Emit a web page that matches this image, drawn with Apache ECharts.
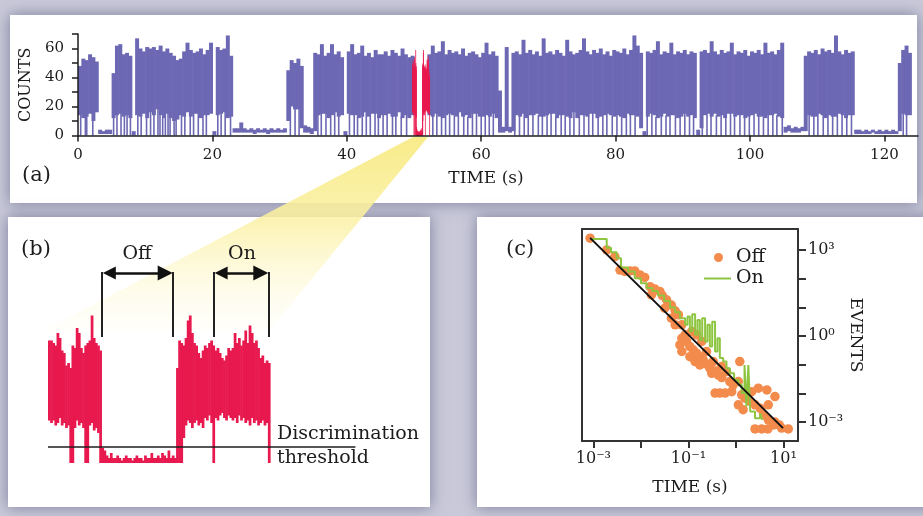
<!DOCTYPE html>
<html><head><meta charset="utf-8">
<script src="https://cdn.jsdelivr.net/npm/echarts@6/dist/echarts.min.js"></script>
<style>html,body{margin:0;padding:0;background:#c9c9d9}#c{width:923px;height:516px}</style>
</head><body><div id="c"></div>
<script>
// ---------- (a) full trace: counts per 0.5 s bin (upper / lower edge of the noise band) ----------
const traceStart = 0;
const traceBin = 0.5;
const traceHigh = [48,53,52,56,54,51,4,3,4,4,
 43,62,63,56,57,55,3,67,60,58,
 61,60,61,59,62,58,60,57,55,52,
 53,58,64,59,57,58,60,56,59,64,
 3,61,59,60,69,55,5,5,9,5,
 4,5,4,5,4,5,4,5,4,5,
 4,5,45,52,50,53,48,7,6,5,
 57,56,63,55,57,63,56,58,54,3,
 58,63,56,57,62,55,57,54,59,56,
 56,58,55,59,57,55,60,56,54,55,
 null,null,null,null,56,62,57,58,65,56,
 59,57,58,56,60,55,57,58,56,54,
 57,64,56,58,55,31,6,61,6,57,
 58,56,66,57,59,56,58,55,67,57,
 58,56,59,57,55,66,58,56,57,59,
 67,58,56,59,57,60,56,58,55,59,
 58,57,60,56,59,69,62,57,3,58,
 57,59,65,56,58,57,64,56,58,57,
 59,56,58,57,4,58,59,57,65,58,
 56,59,57,58,64,56,58,57,59,55,
 58,57,59,56,64,57,58,56,59,64,
 6,7,5,6,5,6,55,58,57,59,
 56,60,58,59,57,69,58,56,59,57,
 58,4,4,3,4,3,4,3,4,3,
 4,3,4,3,50,59,62,57];
const traceLow = [14,12,13,15,10,16,1,1,1,1,
 12,14,15,13,14,12,0,14,13,15,
 12,16,14,18,14,12,15,12,10,11,
 14,13,16,13,15,15,12,14,14,15,
 0,14,15,16,12,13,2,2,2,2,
 2,2,1,2,2,2,1,2,2,2,
 2,2,10,20,18,18,5,2,2,1,
 3,14,15,15,12,14,16,13,14,0,
 15,14,14,12,13,16,13,15,15,12,
 14,14,15,13,13,16,12,14,12,14,
 null,null,null,null,14,13,15,13,12,14,
 15,14,13,16,13,14,12,15,15,13,
 13,14,13,15,12,2,2,3,2,3,
 14,13,15,12,14,14,15,13,13,14,
 15,15,12,14,14,13,12,16,12,14,
 14,13,15,15,12,13,14,15,14,13,
 14,13,12,15,14,14,13,5,0,13,
 15,14,12,13,15,13,14,14,12,13,
 15,13,14,12,0,5,14,15,13,15,
 13,14,12,15,15,13,14,14,12,13,
 14,15,13,13,12,14,14,15,13,12,
 2,3,2,2,2,3,3,14,13,13,
 15,14,12,14,13,13,15,14,12,14,
 14,1,1,1,1,1,2,1,1,1,
 1,1,1,1,3,15,14,14];
// times (s) where the signal drops briefly to ~0 counts during "on" periods
const traceDips = [0.4,1.1,1.3,2.2,
 5.3,5.8,6.4,6.9,7.3,7.8,
 8.9,9.4,10.2,10.8,11.3,11.9,12.2,12.6,13.0,13.4,13.7,14.3,14.6,15.4,15.9,16.7,17.2,17.9,18.6,19.1,
 20.8,21.3,21.9,22.7,
 31.6,32.3,32.9,
 35.7,36.2,36.9,37.6,38.2,38.8,
 40.4,41.1,41.6,42.3,42.9,43.5,44.2,44.7,45.4,46.0,46.8,47.3,48.1,48.9,
 52.8,53.4,54.1,54.7,55.3,56.0,56.6,57.4,58.0,58.7,59.3,60.0,60.6,61.2,61.8,
 65.0,65.7,66.4,67.0,67.7,68.5,69.1,69.8,70.4,71.1,71.9,72.5,73.2,73.8,74.6,75.3,76.0,76.6,77.4,78.1,78.7,79.5,80.2,80.9,81.6,82.2,82.9,
 84.7,85.4,86.0,86.8,87.5,88.1,88.9,89.6,90.3,91.0,91.6,
 92.9,93.6,94.2,95.0,95.7,96.4,97.1,97.7,98.5,99.2,99.9,100.6,101.3,102.0,102.7,103.4,104.0,104.8,
 108.8,109.5,110.1,110.9,111.6,112.3,113.0,113.7,114.4,115.1,
 122.8,123.3];

// ---------- highlighted excerpt (red), counts per 0.025 s bin ----------
const zoomStart = 49.7;
const zoomBin = 0.025;
const zoomHigh = [49,49,48,47,52,50,45,44,39,40,
 38,47,46,54,52,46,44,47,48,49,
 59,50,48,47,45,6,5,3,2,4,
 2,2,3,2,1,2,3,2,2,1,
 2,3,2,2,1,3,2,2,4,2,
 2,3,2,4,3,2,5,2,3,2,
 38,49,48,47,50,57,59,52,48,47,
 44,42,45,47,46,48,49,47,45,46,
 44,42,41,43,46,45,46,52,48,50,
 47,49,53,48,55,52,48,49,46,42,
 43,40,41,40];
const zoomLow = [17,16,17,15,16,18,15,16,14,15,
 0,0,14,17,15,16,14,0,0,15,
 16,13,14,12,0,0,0,0,0,0,
 0,0,0,0,0,0,0,0,0,0,
 0,0,0,0,0,0,0,0,0,0,
 0,0,0,0,0,0,0,0,0,0,
 0,0,0,10,15,17,16,14,16,17,
 15,16,14,18,17,19,16,0,18,17,
 19,20,18,17,19,18,17,18,16,19,
 17,18,16,17,15,18,16,17,15,16,
 17,15,16,0];
const zoomEnd = 53.3;
const thresholdCounts = 6.4;
const offSpan = [50.33, 51.16];
const onSpan = [51.64, 52.28];
const bracketLevels = [50.4, 76.4];
const arrowLevel = 76;

// ---------- (a) axis ticks ----------
const countLabelValues = [0, 20, 40, 60];

// ---------- (c) dwell-time histogram, log10 values ----------
const offLogTime = [-3.07,-2.72,-2.55,-2.44,-2.34,-2.23,-2.13,-2.02,-1.92,-1.81,-1.71,-1.60,-1.55,-1.46,-1.36,-1.28,-1.21,-1.14,-1.07,-1.18,-1.14,-1.04,-0.97,-0.90,-0.83,-0.76,-0.69,-0.62,-0.55,-0.51,-0.44,-0.37,-0.30,-0.93,-0.83,-0.72,-0.62,-0.48,-0.30,-0.20,-0.13,-0.06,0.05,0.08,-0.44,-0.34,-0.23,-0.09,0.12,0.19,0.30,0.40,0.33,0.47,0.65,0.82,0.68,0.51,0.58,0.68,0.82,0.96,1.10,0.40,0.54,0.67,0.79,0.91,-1.36,-1.28,-1.50,-1.78,-0.97,-0.86,-0.76,-1.14,0.05,0.15];
const offLogEvents = [3.41,3.00,2.77,2.30,2.25,2.27,2.27,2.13,2.04,1.72,1.64,1.55,1.41,1.26,1.08,0.88,0.74,0.39,0.04,-0.31,-0.54,-0.19,-0.37,-0.48,-0.60,-0.72,-0.83,-0.98,-1.12,-1.30,-1.22,-1.36,-1.45,0.16,0.04,-0.19,-0.54,-0.89,-1.06,-1.24,-1.59,-1.70,-1.59,-0.89,-1.99,-1.99,-1.99,-1.94,-2.05,-2.17,-2.28,-2.40,-1.94,-1.82,-1.88,-2.11,-2.40,-2.52,-2.75,-2.92,-3.00,-3.21,-3.24,-3.24,-3.24,-3.24,-3.10,-3.10,0.62,0.39,0.97,1.43,-0.72,-0.89,-1.01,-0.08,-2.40,-2.57];
const onLogTime = [-3.05,-2.72,-2.63,-2.51,-2.42,-2.27,-2.13,-2.00,-1.88,-1.76,-1.64,-1.51,-1.39,-1.28,-1.18,-1.07,-1.02,-0.97,-0.92,-0.86,-0.81,-0.76,-0.71,-0.65,-0.60,-0.55,-0.50,-0.44,-0.39,-0.34,-0.27,-0.20,-0.13,-0.04,0.05,0.12,0.18,0.22,0.26,0.30,0.40,0.51,0.55];
const onLogEvents = [3.38,3.08,2.92,2.71,2.39,2.25,2.01,1.84,1.67,1.57,1.41,1.22,0.99,0.83,0.62,0.39,0.68,0.16,0.76,0.04,0.56,-0.14,0.62,-0.19,0.39,-0.37,0.50,-0.54,-0.08,-0.77,-0.89,-1.12,-1.30,-1.53,-1.70,-1.99,-1.01,-2.46,-1.01,-2.63,-2.87,-2.69,-2.92];
const fitLogTime = [-3.07, 0.99];
const fitLogEvents = [3.42, -3.21];
const logTicks = [-3,-2,-1,0,1];
const logTimeLabels = [-3,-1,1];
const logEventTicks = [-3,-2,-1,0,1,2,3];
const logEventLabels = [-3,0,3];

// ---------- build ----------
const zip = (a, b) => a.map((v, i) => [v, b[i]]);
const SUP = {'-':'\u207B','0':'\u2070','1':'\u00B9','2':'\u00B2','3':'\u00B3'};
const pow10 = v => '10' + String(Math.round(v)).split('').map(c => SUP[c]).join('');

const F = 'DejaVu Serif';
const INK = '#1c1c1c';
const PURPLE = '#6c68b3';
const RED = '#e8194e';
const ORANGE = '#f38b4c';
const GREEN = '#8dc540';

// one rectangle per time bin, from the low edge to the high edge (through the axes' scales)
function band(start, bw, hi, lo, xi, yi, color, z) {
  const data = [];
  hi.forEach((h, i) => { if (h != null) data.push([+(start + i * bw).toFixed(4), lo[i], h]); });
  return {type: 'custom', xAxisIndex: xi, yAxisIndex: yi, silent: true, z, data,
    encode: {x: 0, y: [1, 2]},
    renderItem: (params, api) => {
      const a = api.coord([api.value(0), api.value(2)]);
      const b = api.coord([api.value(0) + bw, api.value(1)]);
      return {type: 'rect', shape: {x: a[0], y: a[1], width: (b[0] - a[0]) + 0.6, height: b[1] - a[1]},
        style: {fill: color}};
    }};
}
const dipData = traceDips.map(t => [t, traceLow[Math.floor(t / traceBin)] + 1]);

const pxPerSecB = 307.4 / (zoomEnd - zoomStart);
const inset = 7.5 / pxPerSecB;

const chart = echarts.init(document.getElementById('c'), null, {renderer: 'canvas'});
const panelStyle = {fill: '#ffffff', shadowBlur: 14, shadowColor: 'rgba(60,60,105,0.55)'};
const txt = (text, x, y, size, align) => ({type: 'text', x, y, z: 20,
  style: {text, fill: INK, font: size + 'px "' + F + '"', textAlign: align || 'left', textVerticalAlign: 'middle'}});

const option = {
  backgroundColor: '#c9c9d9',
  animation: false,
  textStyle: {fontFamily: F},
  graphic: {elements: [
    {type: 'rect', shape: {x: 10, y: 15, width: 907, height: 188}, style: panelStyle, z: -10},
    {type: 'rect', shape: {x: 8, y: 217, width: 422, height: 290}, style: panelStyle, z: -10},
    {type: 'rect', shape: {x: 477, y: 217, width: 470, height: 290}, style: panelStyle, z: -10},
    {type: 'polygon', z: -5, shape: {points: [[413,137],[428,137],[270,330],[45,330]]},
      style: {fill: {type: 'linear', x: 0, y: 0, x2: 0, y2: 1, colorStops: [
        {offset: 0, color: 'rgba(248,235,135,0.97)'},
        {offset: 0.4, color: 'rgba(250,240,160,0.88)'},
        {offset: 1, color: 'rgba(255,251,225,0.15)'}]}}},
    txt('(a)', 22, 176, 21),
    txt('(b)', 21, 250, 21),
    txt('(c)', 506, 250, 21),
    txt('Off', 137, 254, 19, 'center'),
    txt('On', 242, 254, 19, 'center'),
    txt('Discrimination', 277, 434, 19),
    txt('threshold', 277, 458, 19)
  ]},
  legend: [
    {data: [{name: 'Off', icon: 'circle'}], left: 714, top: 248, padding: 0, itemWidth: 9, itemHeight: 9,
      selectedMode: false, textStyle: {fontSize: 19, color: INK, fontFamily: F, padding: [0,0,0,8]}},
    {data: [{name: 'On', icon: 'rect'}], left: 704, top: 269, padding: 0, itemWidth: 27, itemHeight: 2,
      selectedMode: false, textStyle: {fontSize: 19, color: INK, fontFamily: F}}
  ],
  grid: [
    {left: 78, top: 34, width: 840, height: 101.5},
    {left: 48, top: 263, width: 307.4, height: 200},
    {left: 582, top: 229, width: 216, height: 212}
  ],
  xAxis: [
    {gridIndex: 0, type: 'value', min: 0, max: 125, interval: 20, z: 8,
      axisLine: {onZero: false, lineStyle: {color: INK, width: 1.5}},
      axisTick: {show: true, length: 6, lineStyle: {color: INK, width: 1.5}},
      axisLabel: {fontSize: 15, color: INK, fontFamily: F, margin: 12, showMaxLabel: false},
      splitLine: {show: false},
      name: 'TIME (s)', nameLocation: 'middle', nameGap: 35,
      nameTextStyle: {fontSize: 17, color: INK, fontFamily: F, padding: [0, 24, 0, 0]}},
    {gridIndex: 1, type: 'value', min: zoomStart, max: zoomEnd, show: false},
    {gridIndex: 2, type: 'value', min: -3.24, max: 1.305, position: 'bottom', z: 8,
      axisLine: {onZero: false, lineStyle: {color: '#333', width: 2}},
      axisTick: {show: true, customValues: logTicks, length: 7, lineStyle: {color: '#333', width: 2}},
      axisLabel: {customValues: logTimeLabels, formatter: pow10, fontSize: 16, color: INK, fontFamily: F, margin: 10},
      splitLine: {show: false},
      name: 'TIME (s)', nameLocation: 'middle', nameGap: 38,
      nameTextStyle: {fontSize: 17, color: INK, fontFamily: F}},
    {gridIndex: 2, type: 'value', min: -3.24, max: 1.305, position: 'top', z: 8,
      axisLine: {onZero: false, lineStyle: {color: '#333', width: 2}},
      axisTick: {show: false}, axisLabel: {show: false}, splitLine: {show: false}}
  ],
  yAxis: [
    {gridIndex: 0, type: 'value', min: 0, max: 70, interval: 10, z: 8,
      axisLine: {show: true, onZero: false, lineStyle: {color: INK, width: 1.5}},
      axisTick: {show: true, length: 6, lineStyle: {color: INK, width: 1.5}},
      axisLabel: {customValues: countLabelValues, fontSize: 15, color: INK, fontFamily: F, margin: 14},
      splitLine: {show: false},
      name: 'COUNTS', nameLocation: 'middle', nameGap: 39, nameRotate: 90,
      nameTextStyle: {fontSize: 16, color: INK, fontFamily: F}},
    {gridIndex: 1, type: 'value', min: 0, max: 80, show: false},
    {gridIndex: 2, type: 'value', min: -3.66, max: 3.73, position: 'right', z: 8,
      axisLine: {show: true, onZero: false, lineStyle: {color: '#333', width: 2}},
      axisTick: {show: true, customValues: logEventTicks, length: 8, lineStyle: {color: '#333', width: 2}},
      axisLabel: {customValues: logEventLabels, formatter: pow10, fontSize: 16, color: INK, fontFamily: F, margin: 10},
      splitLine: {show: false},
      name: 'EVENTS', nameLocation: 'middle', nameGap: 48, nameRotate: -90,
      nameTextStyle: {fontSize: 17, color: INK, fontFamily: F}},
    {gridIndex: 2, type: 'value', min: -3.66, max: 3.73, position: 'left', z: 8,
      axisLine: {show: true, onZero: false, lineStyle: {color: '#333', width: 2}},
      axisTick: {show: false}, axisLabel: {show: false}, splitLine: {show: false}}
  ],
  series: [
    band(traceStart, traceBin, traceHigh, traceLow, 0, 0, PURPLE, 3),
    {type: 'bar', xAxisIndex: 0, yAxisIndex: 0, data: dipData, barWidth: 1.6, silent: true, z: 3,
      itemStyle: {color: PURPLE}},
    band(zoomStart, zoomBin, zoomHigh, zoomLow, 0, 0, RED, 4),
    band(zoomStart, zoomBin, zoomHigh, zoomLow, 1, 1, RED, 3),
    {type: 'line', xAxisIndex: 1, yAxisIndex: 1, symbol: 'none', silent: true,
      data: [[zoomStart, thresholdCounts], [zoomEnd, thresholdCounts]],
      lineStyle: {color: INK, width: 1.6}, z: 5},
    {type: 'lines', coordinateSystem: 'cartesian2d', xAxisIndex: 1, yAxisIndex: 1, silent: true, z: 5,
      symbol: ['none', 'none'], lineStyle: {color: '#222', width: 2, opacity: 1},
      data: [offSpan[0], offSpan[1], onSpan[0], onSpan[1]].map(t => ({coords: [[t, bracketLevels[0]], [t, bracketLevels[1]]]}))},
    {type: 'lines', coordinateSystem: 'cartesian2d', xAxisIndex: 1, yAxisIndex: 1, silent: true, z: 6,
      symbol: ['triangle', 'triangle'], symbolSize: [13, 15],
      lineStyle: {color: '#111', width: 2.5, opacity: 1},
      data: [
        {coords: [[offSpan[0] + inset, arrowLevel], [offSpan[1] - inset, arrowLevel]]},
        {coords: [[onSpan[0] + inset, arrowLevel], [onSpan[1] - inset, arrowLevel]]}
      ]},
    {name: 'Off', type: 'scatter', xAxisIndex: 2, yAxisIndex: 2, data: zip(offLogTime, offLogEvents),
      symbolSize: 9.5, itemStyle: {color: ORANGE, opacity: 1}, silent: true, z: 3},
    {name: 'On', type: 'line', step: 'end', xAxisIndex: 2, yAxisIndex: 2, data: zip(onLogTime, onLogEvents),
      symbol: 'none', silent: true, lineStyle: {color: GREEN, width: 2}, itemStyle: {color: GREEN}, z: 4},
    {type: 'line', xAxisIndex: 2, yAxisIndex: 2, data: zip(fitLogTime, fitLogEvents), symbol: 'none', silent: true,
      lineStyle: {color: '#111', width: 2}, z: 5}
  ]
};
chart.setOption(option);
</script></body></html>
